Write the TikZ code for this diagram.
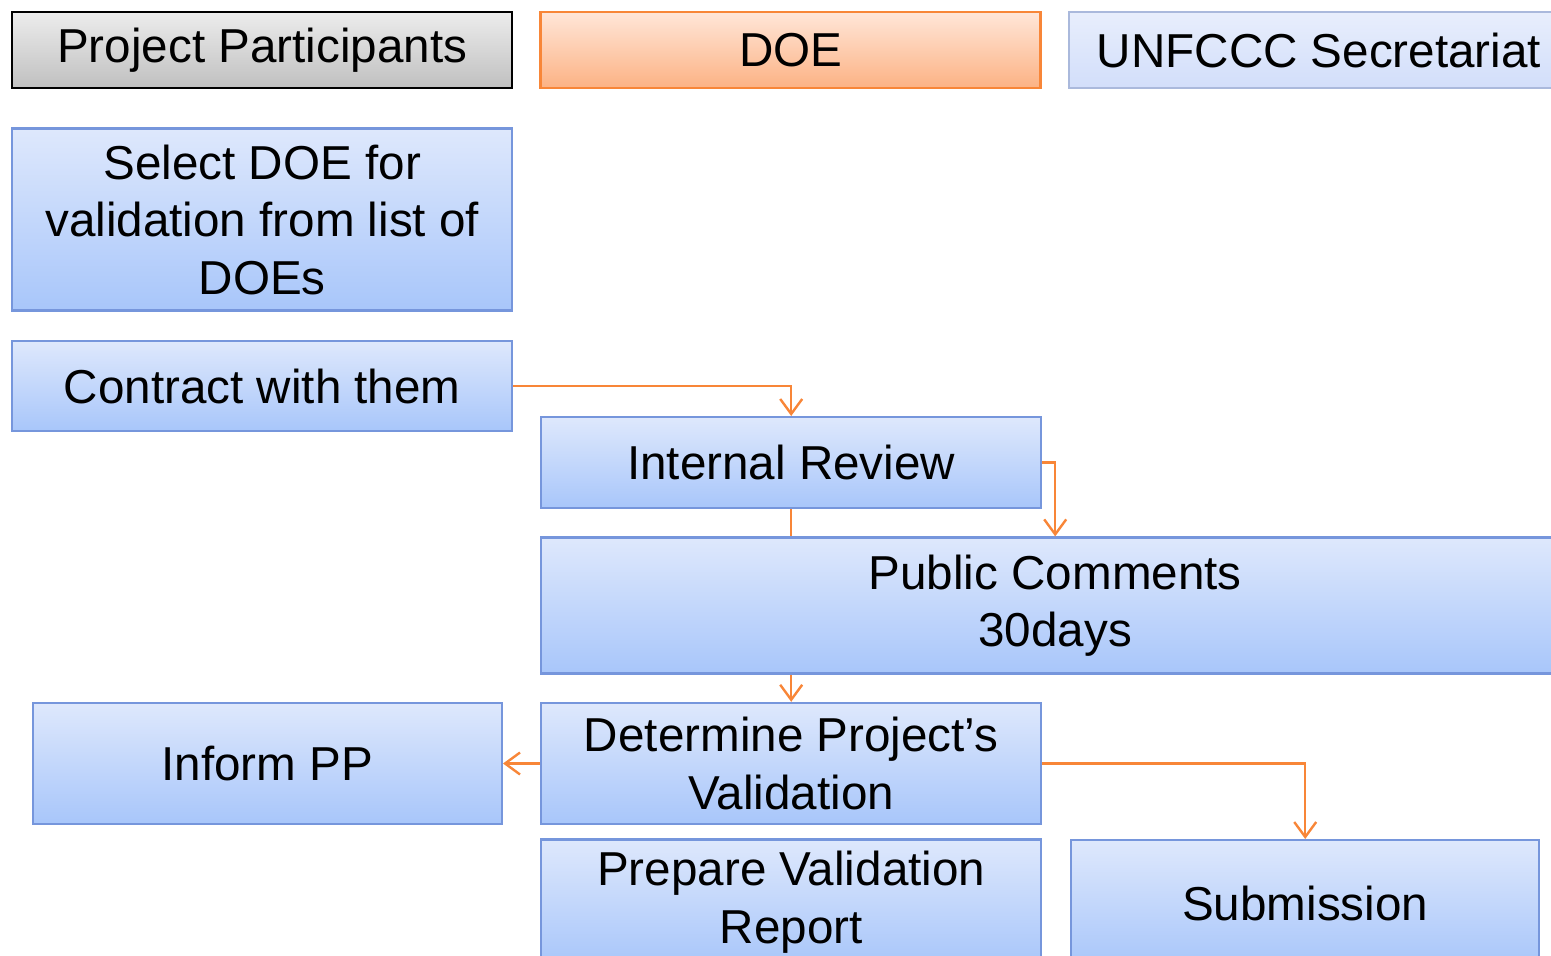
\documentclass[tikz,border=0pt]{standalone}
\usepackage{fontspec}
\setmainfont{Liberation Sans}
\usetikzlibrary{arrows.meta,positioning}
\definecolor{boxtop}{RGB}{222,232,252}
\definecolor{boxbottom}{RGB}{168,198,250}
\definecolor{boxline}{RGB}{118,150,220}
\definecolor{paletop}{RGB}{232,238,252}
\definecolor{palebottom}{RGB}{210,222,250}
\definecolor{paleline}{RGB}{170,185,220}
\definecolor{greytop}{RGB}{236,236,236}
\definecolor{greybottom}{RGB}{192,192,192}
\definecolor{orangetop}{RGB}{255,230,216}
\definecolor{orangebottom}{RGB}{252,178,132}
\definecolor{orangeline}{RGB}{248,134,56}

\begin{document}
\begin{tikzpicture}[x=1pt, y=1pt,
  every node/.style={font=\fontsize{23.8}{28.75}\selectfont, align=center, inner sep=2pt},
  stage/.style={rectangle, minimum width=250pt, line width=1.2pt, draw=boxline, top color=boxtop, bottom color=boxbottom},
  head/.style={rectangle, minimum width=250pt, minimum height=38pt, line width=1.2pt},
  flow/.style={-{Straight Barb[length=7.5pt, width=11pt]}, line width=1.2pt, color=orangeline},
  link/.style={line width=1.2pt, color=orangeline},
]
\useasboundingbox (0,0) rectangle (775.5,-478);
\clip (0,0) rectangle (775.5,-478);

% Lane headers
\node[head, anchor=north west, draw=black, top color=greytop, bottom color=greybottom] (pp) at (5.5,-5.5) {Project Participants};
\node[head, right=13pt of pp, draw=orangeline, top color=orangetop, bottom color=orangebottom] (doe) {DOE};
\node[head, right=13pt of doe, draw=paleline, top color=paletop, bottom color=palebottom] (unfccc) {UNFCCC Secretariat};

% Project participants column
\node[stage, minimum height=91pt, below=19pt of pp] (select) {Select DOE for\\validation from list of\\DOEs};
\node[stage, minimum height=45pt, below=14pt of select] (contract) {Contract with them};

% DOE column
\node[stage, minimum height=45.5pt, anchor=north west] (review) at (270,-208) {Internal Review};
\node[stage, minimum width=514pt, minimum height=68pt, below right=13.5pt and 0pt of review.south west] (pubcom) {Public Comments\\30days};
\node[stage, minimum height=60.5pt, below right=13.5pt and 0pt of pubcom.south west] (determine) {Determine Project’s\\Validation};
\node[stage, minimum height=63pt, below=6.5pt of determine] (prepare) {Prepare Validation\\Report};

% Outcomes
\node[stage, minimum width=234.5pt, minimum height=60.5pt, left=18.5pt of determine] (inform) {Inform PP};
\node[stage, minimum width=234pt, minimum height=63pt, anchor=north west] (submit) at (535,-419.5) {Submission};

% Connectors
\draw[flow] (contract.east) -| (review.north);
\draw[flow] (review.east) -| (pubcom.north);
\draw[link] (review.south) -- (review.south |- pubcom.north);
\draw[flow] (pubcom.south -| determine.north) -- (determine.north);
\draw[flow] (determine.west) -- (inform.east);
\draw[flow] (determine.east) -| (submit.north);

\end{tikzpicture}
\end{document}
